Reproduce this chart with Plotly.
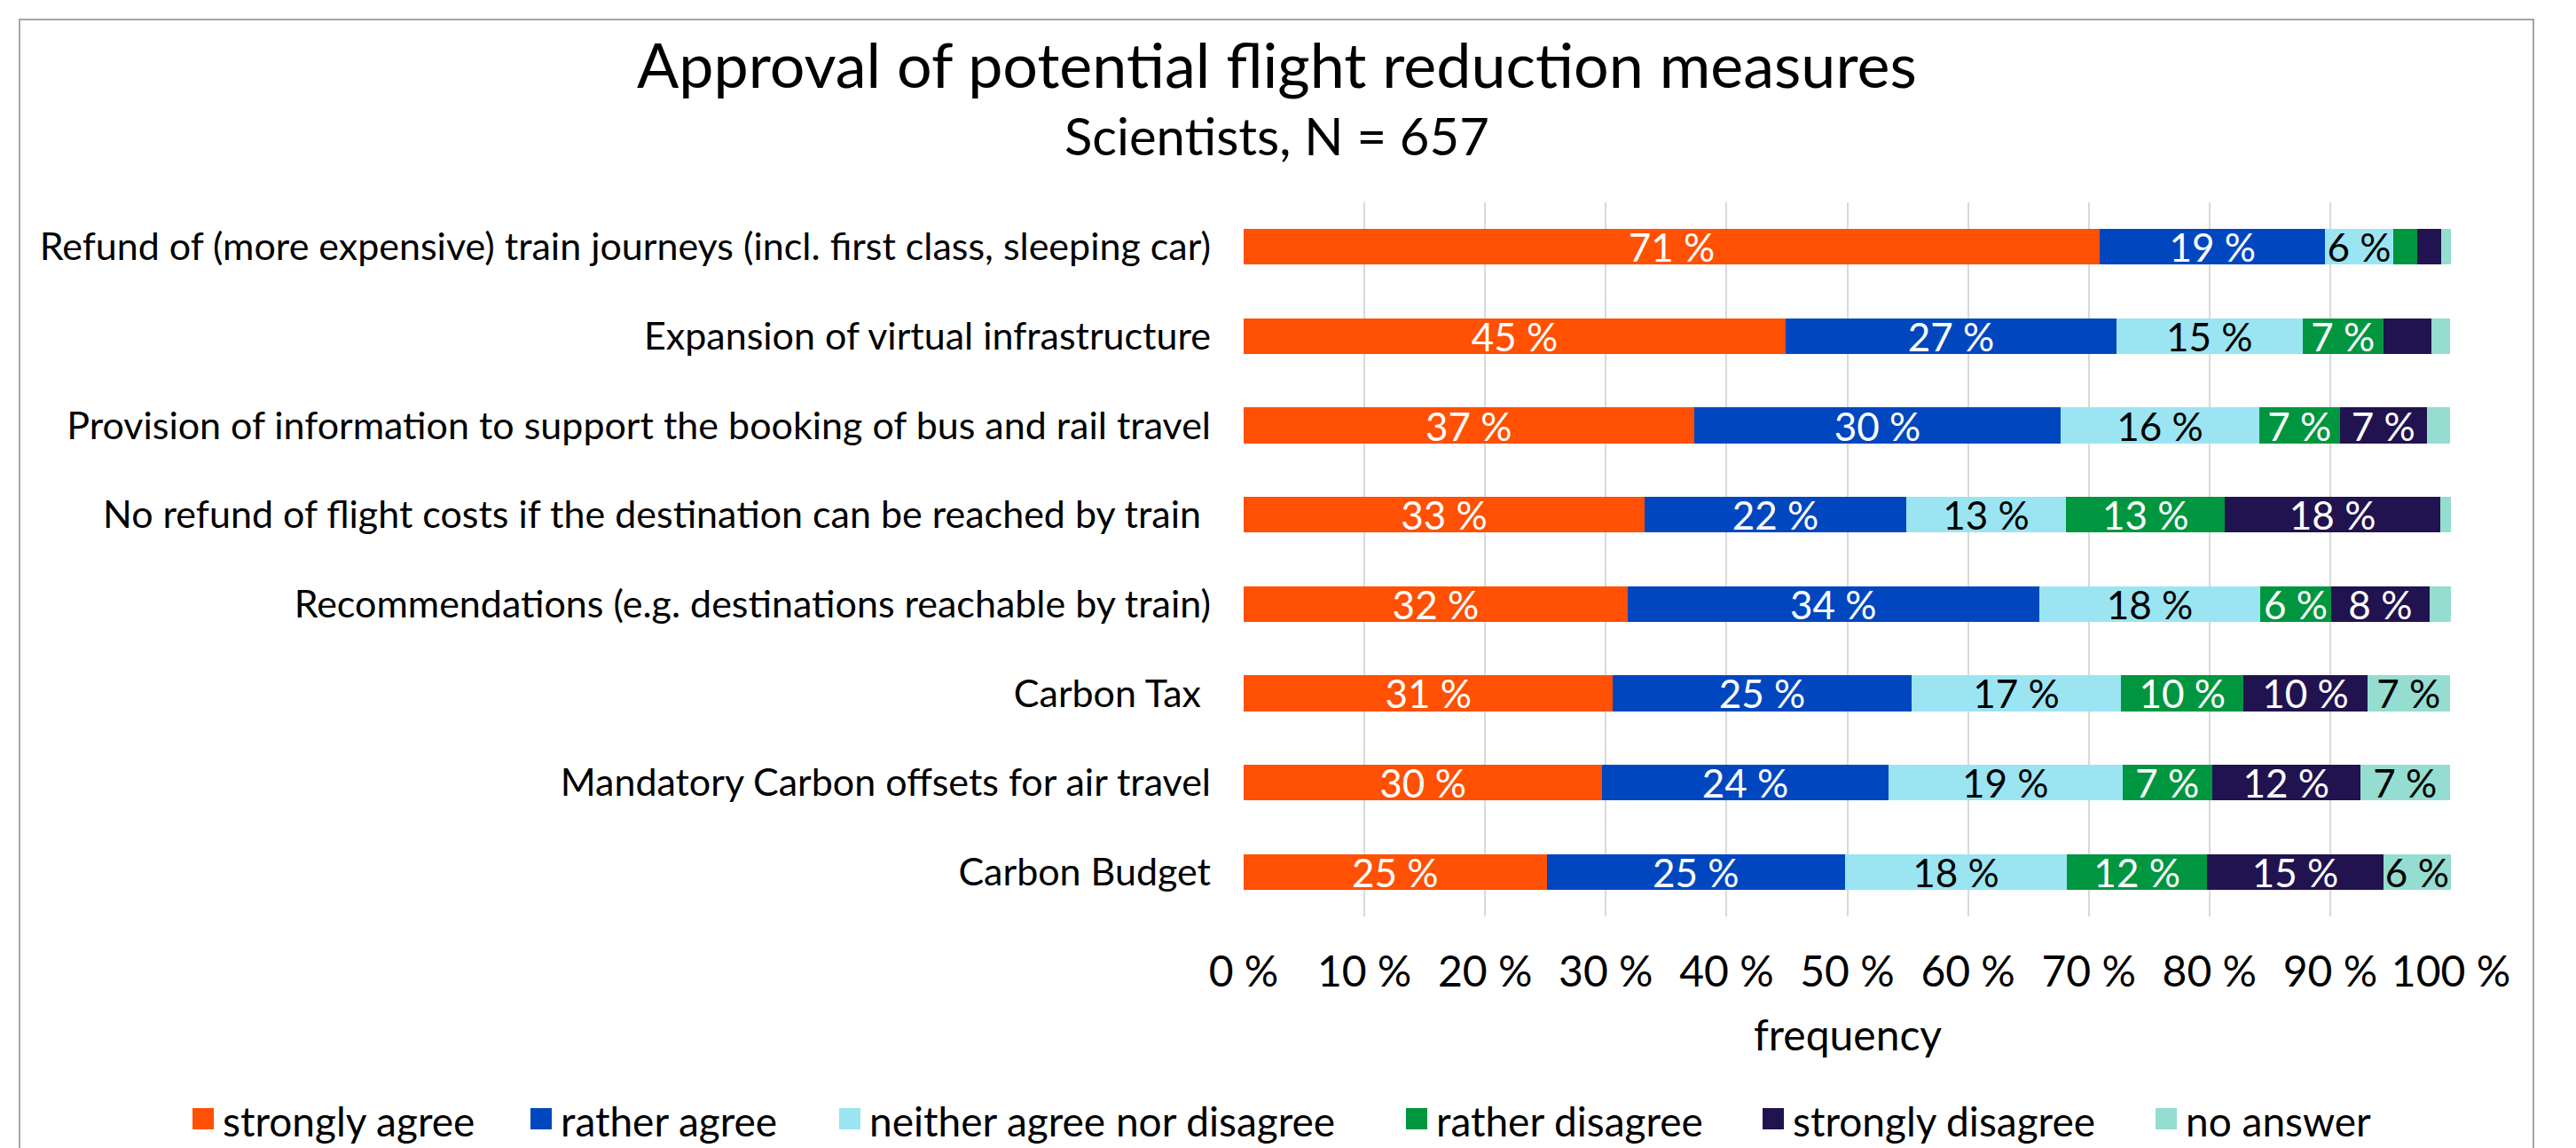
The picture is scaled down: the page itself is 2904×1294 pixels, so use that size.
import plotly.graph_objects as go

categories = [
    "Refund of (more expensive) train journeys (incl. first class, sleeping car)",
    "Expansion of virtual infrastructure",
    "Provision of information to support the booking of bus and rail travel",
    "No refund of flight costs if the destination can be reached by train ",
    "Recommendations (e.g. destinations reachable by train)",
    "Carbon Tax ",
    "Mandatory Carbon offsets for air travel",
    "Carbon Budget",
]

strongly_agree = [70.9, 44.9, 37.3, 33.2, 31.8, 30.6, 29.7, 25.1]
rather_agree = [18.7, 27.4, 30.4, 21.7, 34.1, 24.7, 23.7, 24.7]
neither = [5.6, 15.4, 16.4, 13.2, 18.3, 17.4, 19.4, 18.4]
rather_disagree = [2.0, 6.7, 6.7, 13.2, 5.9, 10.1, 7.4, 11.6]
strongly_disagree = [2.0, 4.0, 7.2, 17.8, 8.1, 10.3, 12.3, 14.6]
no_answer = [0.9, 1.5, 1.9, 0.9, 1.8, 6.8, 7.4, 5.6]

series_names = ["strongly agree", "rather agree", "neither agree nor disagree",
                "rather disagree", "strongly disagree", "no answer"]
series_values = [strongly_agree, rather_agree, neither, rather_disagree,
                 strongly_disagree, no_answer]
colors = ["#FF5003", "#0047BF", "#9BE5F2", "#00963F", "#21134F", "#95DDD1"]
text_colors = ["white", "white", "black", "white", "white", "black"]

tick_vals = [0, 10, 20, 30, 40, 50, 60, 70, 80, 90, 100]
tick_text = ["0 %", "10 %", "20 %", "30 %", "40 %", "50 %", "60 %", "70 %", "80 %", "90 %", "100 %"]

FONT = "Lato"
W, H = 2904, 1294
L, R, T, B = 1402, 2763, 228, 1033

# legend entry left edges (pixels) as laid out in the reference
legend_x_px = [217, 598, 946, 1585, 1987, 2430]
LEGEND_Y = 1261
SQ = 24


def px_x(x):
    return (x - L) / (R - L)


def px_y(y):
    return (B - y) / (B - T)


fig = go.Figure()
for name, vals, col, tcol in zip(series_names, series_values, colors, text_colors):
    labels = [f"{round(v)} %" if v >= 5 else "" for v in vals]
    fig.add_trace(go.Bar(
        y=categories, x=vals, name=name, orientation="h",
        marker=dict(color=col, line=dict(width=0)),
        text=labels, textposition="inside", insidetextanchor="middle",
        textangle=0,
        insidetextfont=dict(family=FONT, size=44, color=tcol),
        hoverinfo="skip", showlegend=False,
    ))

annotations = [
    dict(text="Approval of potential flight reduction measures", xref="paper", yref="paper",
         x=px_x(1439), y=px_y(72), xanchor="center", yanchor="middle", showarrow=False,
         font=dict(family=FONT, size=70, color="black")),
    dict(text="Scientists, N = 657", xref="paper", yref="paper",
         x=px_x(1439), y=px_y(153), xanchor="center", yanchor="middle", showarrow=False,
         font=dict(family=FONT, size=58, color="black")),
    dict(text="frequency", xref="paper", yref="paper",
         x=0.5, y=px_y(1165), xanchor="center", yanchor="middle", showarrow=False,
         font=dict(family=FONT, size=48, color="black")),
]
shapes = [
    dict(type="rect", xref="paper", yref="paper",
         x0=px_x(22), x1=px_x(2856), y0=px_y(1320), y1=px_y(22),
         line=dict(color="#A6A6A6", width=2), fillcolor="rgba(0,0,0,0)", layer="below"),
]
for name, col, lx in zip(series_names, colors, legend_x_px):
    shapes.append(dict(type="rect", xref="paper", yref="paper",
                       x0=px_x(lx), x1=px_x(lx + SQ),
                       y0=px_y(LEGEND_Y + SQ / 2), y1=px_y(LEGEND_Y - SQ / 2),
                       line=dict(width=0), fillcolor=col))
    annotations.append(dict(text=name, xref="paper", yref="paper",
                            x=px_x(lx + SQ + 8), y=px_y(LEGEND_Y + 2),
                            xanchor="left", yanchor="middle", showarrow=False,
                            font=dict(family=FONT, size=46, color="black")))

fig.update_layout(
    width=W, height=H,
    barmode="stack", bargap=0.6,
    paper_bgcolor="white", plot_bgcolor="white",
    margin=dict(l=L, r=W - R, t=T, b=H - B, pad=0, autoexpand=False),
    font=dict(family=FONT, color="black"),
    uniformtext=dict(minsize=44, mode="show"),
    showlegend=False,
    xaxis=dict(
        range=[0, 100], tickvals=tick_vals, ticktext=tick_text,
        showgrid=True, gridcolor="#D9D9D9", gridwidth=2,
        zeroline=False, showline=False, ticks="",
        tickfont=dict(family=FONT, size=48, color="black"),
        ticklabelstandoff=30,
        automargin=False,
        fixedrange=True,
    ),
    yaxis=dict(
        categoryorder="array", categoryarray=categories, autorange="reversed",
        showgrid=False, zeroline=False, showline=False, ticks="",
        tickfont=dict(family=FONT, size=43, color="black"),
        ticklabelstandoff=36,
        automargin=False,
        fixedrange=True,
    ),
    annotations=annotations,
    shapes=shapes,
)

fig.write_html("out.html")
